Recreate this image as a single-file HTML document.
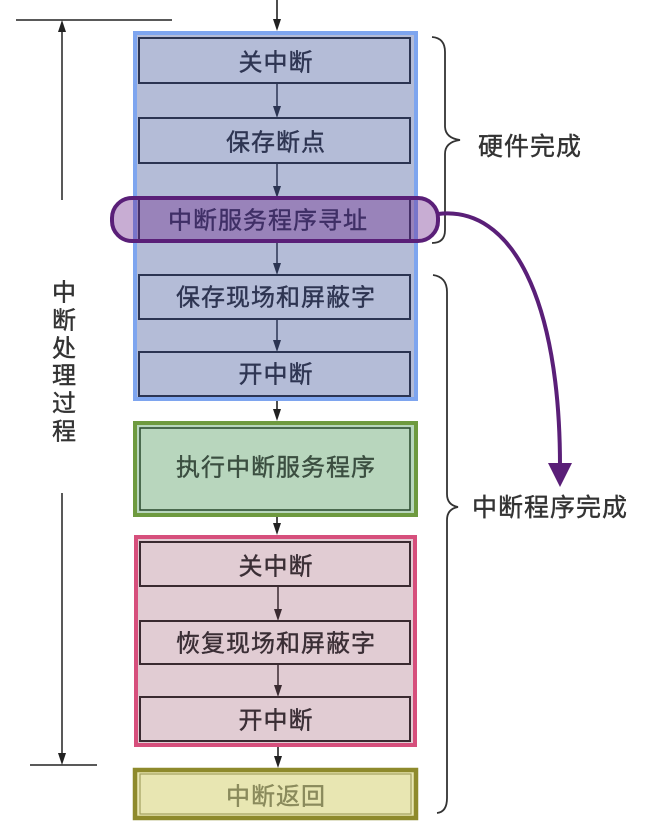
<!DOCTYPE html>
<html><head><meta charset="utf-8"><style>
html,body{margin:0;padding:0;background:#fff;}
svg{display:block;}
text{font-family:"Liberation Sans","Noto Sans CJK SC",sans-serif;}
</style></head><body>
<svg width="652" height="836" viewBox="0 0 652 836" xmlns="http://www.w3.org/2000/svg">
<rect width="652" height="836" fill="#ffffff"/>

<!-- left timeline -->
<line x1="16" y1="20" x2="172" y2="20" stroke="#222" stroke-width="1.6"/>
<line x1="62" y1="28" x2="62" y2="200" stroke="#222" stroke-width="1.5"/>
<polygon points="62,20 58,32 66,32" fill="#222"/>
<line x1="62" y1="493" x2="62" y2="756" stroke="#222" stroke-width="1.5"/>
<polygon points="62,765 58,753 66,753" fill="#222"/>
<line x1="30" y1="765" x2="97" y2="765" stroke="#222" stroke-width="1.6"/>
<g font-size="24" fill="#333" stroke="#333" stroke-width="0.4" text-anchor="middle" dominant-baseline="central">
<text x="64" y="293">中</text>
<text x="64" y="321">断</text>
<text x="64" y="349">处</text>
<text x="64" y="376">理</text>
<text x="64" y="404">过</text>
<text x="64" y="432">程</text>
</g>

<!-- top arrow -->
<line x1="277" y1="0" x2="277" y2="24" stroke="#222" stroke-width="1.6"/>
<polygon points="277,31 273,19 281,19" fill="#222"/>

<!-- blue container -->
<rect x="135" y="33" width="281" height="366" fill="#b4bcd7" stroke="#7ea5ef" stroke-width="4"/>
<g fill="none" stroke="#2b3452" stroke-width="2">
<rect x="139" y="38" width="271" height="45"/>
<rect x="139" y="118" width="271" height="45"/>
<rect x="139" y="198" width="271" height="42"/>
<rect x="139" y="275" width="271" height="44"/>
<rect x="139" y="352" width="271" height="44"/>
</g>
<g stroke="#2b3452" stroke-width="1.5">
<line x1="277" y1="83" x2="277" y2="110"/>
<line x1="277" y1="163" x2="277" y2="190"/>
<line x1="277" y1="240" x2="277" y2="267"/>
<line x1="277" y1="319" x2="277" y2="344"/>
</g>
<g fill="#2b3452">
<polygon points="277,118 273,106 281,106"/>
<polygon points="277,198 273,186 281,186"/>
<polygon points="277,275 273,263 281,263"/>
<polygon points="277,352 273,340 281,340"/>
</g>

<!-- pill -->
<rect x="112" y="198" width="326" height="43" rx="20" ry="20" fill="rgba(110,40,140,0.38)" stroke="#5a1f78" stroke-width="4"/>

<g font-size="24" fill="#2e3552" stroke="#2e3552" stroke-width="0.4" text-anchor="middle" dominant-baseline="central" letter-spacing="1">
<text x="276" y="63">关中断</text>
<text x="276" y="143">保存断点</text>
<text x="268" y="221" fill="#3f2f66" stroke="#3f2f66">中断服务程序寻址</text>
<text x="276" y="298">保存现场和屏蔽字</text>
<text x="276" y="375">开中断</text>
</g>

<!-- arrow blue->green -->
<line x1="277" y1="401" x2="277" y2="412" stroke="#222" stroke-width="1.6"/>
<polygon points="277,421 273,409 281,409" fill="#222"/>

<!-- green -->
<rect x="135" y="423" width="281" height="92" fill="#b8d6bd" stroke="#6e9a3f" stroke-width="4"/>
<rect x="140" y="428" width="270" height="82" fill="none" stroke="#2f4f33" stroke-width="1.6"/>
<text x="276" y="468" font-size="24" fill="#3b4e40" stroke="#3b4e40" stroke-width="0.4" text-anchor="middle" dominant-baseline="central" letter-spacing="1">执行中断服务程序</text>

<!-- arrow green->pink -->
<line x1="277" y1="517" x2="277" y2="527" stroke="#222" stroke-width="1.6"/>
<polygon points="277,535 273,523 281,523" fill="#222"/>

<!-- pink -->
<rect x="136" y="537" width="279" height="208" fill="#e1ccd3" stroke="#d64f7c" stroke-width="4"/>
<g fill="none" stroke="#3a2a30" stroke-width="2">
<rect x="140" y="542" width="270" height="44"/>
<rect x="140" y="621" width="270" height="43"/>
<rect x="140" y="697" width="270" height="44"/>
</g>
<g stroke="#3a2a30" stroke-width="1.5">
<line x1="278" y1="586" x2="278" y2="612"/>
<line x1="278" y1="664" x2="278" y2="689"/>
</g>
<g fill="#3a2a30">
<polygon points="278,621 274,609 282,609"/>
<polygon points="278,697 274,685 282,685"/>
</g>
<g font-size="24" fill="#3a2e35" stroke="#3a2e35" stroke-width="0.4" text-anchor="middle" dominant-baseline="central" letter-spacing="1">
<text x="276" y="567">关中断</text>
<text x="276" y="644">恢复现场和屏蔽字</text>
<text x="276" y="721">开中断</text>
</g>

<!-- arrow pink->yellow -->
<line x1="278" y1="747" x2="278" y2="759" stroke="#222" stroke-width="1.6"/>
<polygon points="278,768 274,756 282,756" fill="#222"/>

<!-- yellow -->
<rect x="135" y="770" width="281" height="48" fill="#e8e6b2" stroke="#8e8a2c" stroke-width="4.5"/>
<rect x="140" y="774" width="271" height="40" fill="none" stroke="#a3a160" stroke-width="1.2"/>
<text x="276" y="797" font-size="24" fill="#8a8a5c" stroke="#8a8a5c" stroke-width="0.4" text-anchor="middle" dominant-baseline="central" letter-spacing="1">中断返回</text>

<!-- braces -->
<path d="M432,37 Q445,38 445,52 L445,126 Q445,138 460,140 Q445,142 445,154 L445,230 Q445,243 432,243" fill="none" stroke="#333" stroke-width="1.8"/>
<path d="M433,275 Q447,277 447,292 L447,494 Q447,505 458,507 Q447,509 447,520 L447,798 Q447,812 437,813" fill="none" stroke="#333" stroke-width="1.8"/>

<text x="530" y="147" font-size="25" fill="#333" stroke="#333" stroke-width="0.4" text-anchor="middle" dominant-baseline="central" letter-spacing="1">硬件完成</text>
<text x="550" y="508" font-size="25" fill="#333" stroke="#333" stroke-width="0.4" text-anchor="middle" dominant-baseline="central" letter-spacing="1">中断程序完成</text>

<!-- purple curved arrow -->
<path d="M438,214 C512,205 560,300 560,466" fill="none" stroke="#5a1f78" stroke-width="4"/>
<polygon points="548,463 572,463 560,487" fill="#5a1f78"/>
</svg>
</body></html>
